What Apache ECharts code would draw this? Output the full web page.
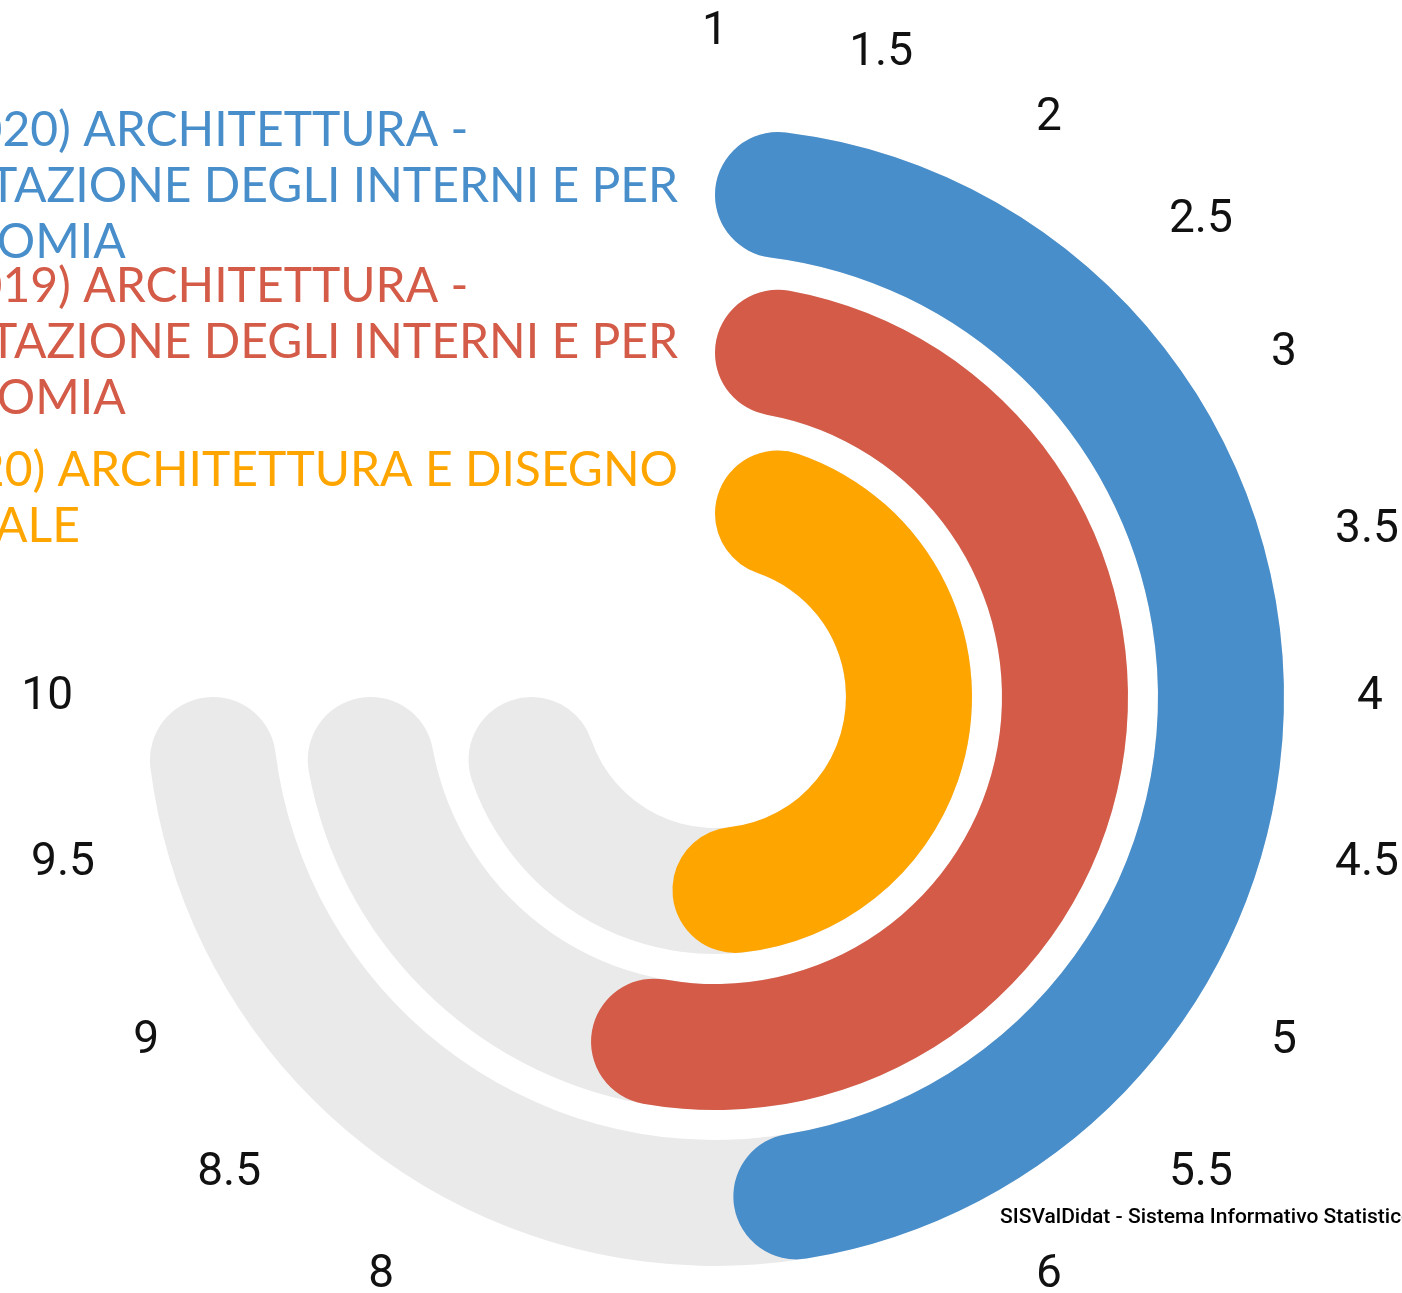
<!DOCTYPE html>
<html>
<head>
<meta charset="utf-8">
<script src="https://cdn.jsdelivr.net/npm/echarts@6/dist/echarts.min.js"></script>
<style>
  html, body { margin: 0; padding: 0; background: #fff; }
  #main { width: 1402px; height: 1293px; }
</style>
</head>
<body>
<div id="main"></div>
<script>
// corsi, dall'anello interno a quello esterno
var courses = [
  "(2019/2020) ARCHITETTURA E DISEGNO\nINDUSTRIALE",
  "(2018/2019) ARCHITETTURA -\nPROGETTAZIONE DEGLI INTERNI E PER\nL'AUTONOMIA",
  "(2019/2020) ARCHITETTURA -\nPROGETTAZIONE DEGLI INTERNI E PER\nL'AUTONOMIA"
];
var scores = [7.43, 7.68, 6.93];
var trackValues = [10, 10, 10];
var colors = ["#ffa500", "#d35b47", "#488eca"];
var scaleMin = 1;
var scaleMax = 10;
var scaleStep = 0.5;
var footer = "SISValDidat - Sistema Informativo Statistico per la Valutazione della Didattica";

var myChart = echarts.init(document.getElementById("main"));

// due sistemi polari identici: uno per il binario grigio, uno per i valori
function makePolar() {
  return { center: [715, 697], radius: [116, 584] };
}
function makeAngleAxis(idx, showLabels) {
  return {
    polarIndex: idx,
    type: "value",
    min: scaleMin,
    max: scaleMax,
    interval: scaleStep,
    startValue: scaleMin,
    startAngle: 90,
    endAngle: -180,
    clockwise: true,
    axisLine: { show: false },
    axisTick: { show: false },
    splitLine: { show: false },
    axisLabel: {
      show: showLabels,
      margin: 58,
      fontFamily: "Roboto",
      fontSize: 46,
      color: "#111"
    }
  };
}
function makeRadiusAxis(idx) {
  return {
    polarIndex: idx,
    type: "category",
    data: courses,
    axisLine: { show: false },
    axisTick: { show: false },
    axisLabel: { show: false },
    splitLine: { show: false }
  };
}

var option = {
  animation: false,
  title: {
    text: footer,
    left: 1000,
    top: 1207,
    padding: 0,
    textStyle: { fontFamily: "Roboto", fontSize: 21, fontWeight: 500, color: "#000" }
  },
  polar: [makePolar(), makePolar()],
  angleAxis: [makeAngleAxis(0, true), makeAngleAxis(1, false)],
  radiusAxis: [makeRadiusAxis(0), makeRadiusAxis(1)],
  series: [
    {
      // binario grigio da 1 a 10
      type: "bar",
      coordinateSystem: "polar",
      polarIndex: 0,
      barWidth: 126,
      silent: true,
      z: 1,
      itemStyle: { color: "#eaeaea", borderRadius: 63 },
      data: trackValues
    },
    {
      type: "bar",
      coordinateSystem: "polar",
      polarIndex: 1,
      barWidth: 126,
      z: 3,
      itemStyle: { borderRadius: 63 },
      data: scores.map(function (v, i) {
        return { value: v, itemStyle: { color: colors[i] } };
      })
    }
  ]
};

myChart.setOption(option);

// etichette dei corsi a sinistra dell'inizio delle barre
var labelFont = "48px Lato";
var ctx = document.createElement("canvas").getContext("2d");
ctx.font = labelFont;

var labels = courses.map(function (name, i) {
  var w = Math.max.apply(null, name.split("\n").map(function (l) {
    return ctx.measureText(l).width;
  }));
  var p = myChart.convertToPixel({ polarIndex: 1 }, [i, scaleMin]);
  return {
    type: "text",
    x: 678 - w,
    y: p[1] - 4,
    style: {
      text: name,
      font: labelFont,
      fill: colors[i],
      align: "left",
      verticalAlign: "middle",
      lineHeight: 56
    }
  };
});

myChart.setOption({ graphic: labels });
</script>
</body>
</html>
